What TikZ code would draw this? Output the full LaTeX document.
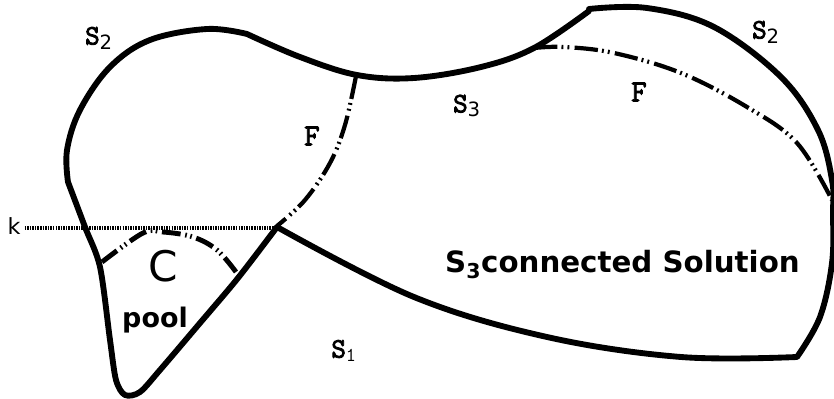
\documentclass[tikz,border=0pt]{standalone}
\usepackage{fontspec}
\usepackage{tikz}
\newfontfamily\labelsans{DejaVu Sans}
\newfontfamily\labelmono{Latin Modern Mono}[AutoFakeBold=3]
\newcommand{\setlab}[2]{{\labelmono\bfseries #1}\textsubscript{\labelsans #2}}

\begin{document}
\begin{tikzpicture}[
    x=0.03cm, y=-0.03cm,
    % ── shared styles ───────────────────────────────────────────────
    boundary/.style={
        line width=5pt, line join=round, line cap=round,
    },
    front line/.style={
        line width=3.6pt,
        dash pattern=on 20pt off 3.5pt on 1.6pt off 3.5pt on 1.6pt off 4.5pt,
    },
    pool line/.style={
        line width=4.2pt,
        dash pattern=on 16pt off 4pt on 1.4pt off 3pt on 1.4pt off 4pt,
    },
    level line/.style={
        line width=3pt, dash pattern=on 1.3pt off 0.9pt,
    },
    set label/.style={font=\fontsize{24}{26}\selectfont},
    front label/.style={font=\labelmono\bfseries\fontsize{26}{28}\selectfont},
    big label/.style={font=\labelsans\bfseries\fontsize{25}{28}\selectfont},
]
\useasboundingbox (0,0) rectangle (834,399);

% =============================================================
%  FRONTS (F) and pool boundary (C)
% =============================================================
\draw[front line] plot[smooth, tension=0.6] coordinates
    {(356,76) (345,125) (330,163) (305,200) (277,226)};
\draw[front line] plot[smooth, tension=0.6] coordinates
    {(534,48) (564,47) (614,53) (681,73) (747,107) (797,143) (832,200)};
\draw[pool line] plot[smooth, tension=0.6] coordinates
    {(102,262) (143,233) (163,232) (193,237) (217,250) (236,272)};

% level k
\node[font=\labelsans\fontsize{19}{20}\selectfont] (k) at (14,226) {k};
\coordinate (kend) at (277,228);
\draw[level line] (k.east |- kend) -- (kend);

% =============================================================
%  OUTLINE
% =============================================================
\draw[boundary]
    plot[smooth, tension=0.6] coordinates
        {(68,182) (67,150) (80,110) (110,67) (150,40) (207,29) (247,34)}
 -- plot[smooth, tension=0.6] coordinates
        {(247,34) (300,57) (357,75) (414,78) (481,67) (534,48) (589,11)}
 -- plot[smooth, tension=0.6] coordinates
        {(589,9) (647,8) (714,27) (781,77) (818,130) (832,180) (833,213)
         (832,263) (820,317) (797,357)}
 -- plot[smooth, tension=0.6] coordinates
        {(797,357) (681,357) (547,337) (414,297) (277,227)}
 -- plot[smooth, tension=0.5] coordinates
        {(277,227) (238,278) (200,323) (160,370) (140,392) (125,395)
         (116,380) (110,340) (100,267) (85,227) (68,182)}
 -- cycle;

% =============================================================
%  Labels
% =============================================================
\node[set label] (s2l) at (99,38) {\setlab{S}{2}};
\node[set label] (s2r) at (766,32) {\setlab{S}{2}};
\node[set label] (s3) at (467,106) {\setlab{S}{3}};
\node[set label] (s1) at (344,351) {{\labelmono\bfseries S}\textsubscript{\labelmono 1}};
\node[front label] (fl) at (312,136) {F};
\node[front label] (fr) at (639,92) {F};
\node[font=\labelsans\fontsize{36}{38}\selectfont] (c) at (163,266) {C};
\node[font=\labelsans\bfseries\fontsize{23}{25}\selectfont] (pool) at (155,320) {pool};
\node[big label, anchor=base west, inner sep=0pt] (sol) at (445,273)
    {S\textsubscript{3}connected Solution};

\end{tikzpicture}
\end{document}
